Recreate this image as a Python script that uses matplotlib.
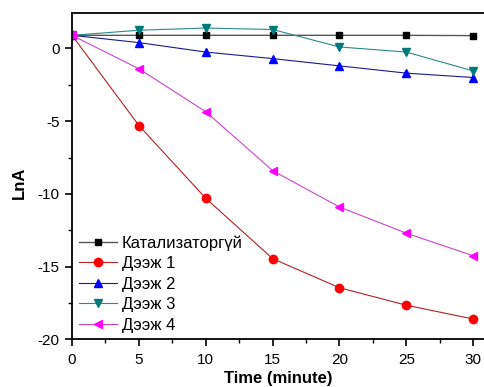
import matplotlib
matplotlib.use("Agg")
import matplotlib.pyplot as plt
from matplotlib.ticker import MultipleLocator

plt.rcParams['font.family'] = ['Liberation Sans', 'DejaVu Sans']
plt.rcParams['axes.unicode_minus'] = False

# time points (minute)
time = [0, 5, 10, 15, 20, 25, 30]

# LnA values
no_cat = [0.9, 0.9, 0.9, 0.9, 0.9, 0.9, 0.88]
sample1 = [0.9, -5.3, -10.3, -14.45, -16.45, -17.65, -18.6]
sample2 = [0.9, 0.4, -0.25, -0.7, -1.2, -1.7, -2.0]
sample3 = [0.9, 1.25, 1.4, 1.3, 0.1, -0.25, -1.55]
sample4 = [0.9, -1.4, -4.35, -8.4, -10.9, -12.7, -14.25]

labels = ['Катализаторгүй', 'Дээж 1', 'Дээж 2', 'Дээж 3', 'Дээж 4']

fig = plt.figure(figsize=(4.85, 3.87), dpi=100)
ax = fig.add_axes([0.1485, 0.123, 0.852, 0.844])

ax.plot(time, no_cat, '-s', color='#555555', mfc='black', mec='black', ms=5, lw=1, label=labels[0])
ax.plot(time, sample1, '-o', color='#b22222', mfc='red', mec='red', ms=6, lw=0.8, label=labels[1])
ax.plot(time, sample2, '-^', color='#1a1a8a', mfc='blue', mec='blue', ms=6, lw=0.8, label=labels[2])
ax.plot(time, sample3, '-v', color='#2a8a8a', mfc='#007b7b', mec='#007b7b', ms=6, lw=0.8, label=labels[3])
ax.plot(time, sample4, '-<', color='#cc44cc', mfc='magenta', mec='magenta', ms=6, lw=0.8, label=labels[4])

ax.set_xlim(0, 30.9)
ax.set_ylim(-20, 2.45)
ax.xaxis.set_major_locator(MultipleLocator(5))
ax.xaxis.set_minor_locator(MultipleLocator(2.5))
ax.yaxis.set_major_locator(MultipleLocator(5))
ax.yaxis.set_minor_locator(MultipleLocator(2.5))
ax.tick_params(which='major', direction='out', length=5, width=1.2, labelsize=11, pad=4)
ax.tick_params(axis='x', which='major', pad=5)
ax.tick_params(which='minor', direction='out', length=3, width=1)
ax.spines['right'].set_visible(False)
for s in ['left', 'bottom', 'top']:
    ax.spines[s].set_linewidth(1.3)

ax.set_xlabel('Time (minute)', fontweight='bold', fontsize=12, labelpad=3)
ax.set_ylabel('LnA', fontweight='bold', fontsize=12)
ax.yaxis.set_label_coords(-0.11, 0.48)

ax.legend(loc='lower left', bbox_to_anchor=(0.0, 0.0), frameon=False, fontsize=12,
          handlelength=2.3, handletextpad=0.3, labelspacing=0.33, borderaxespad=0.0)

fig.savefig('out.png', dpi=100)
